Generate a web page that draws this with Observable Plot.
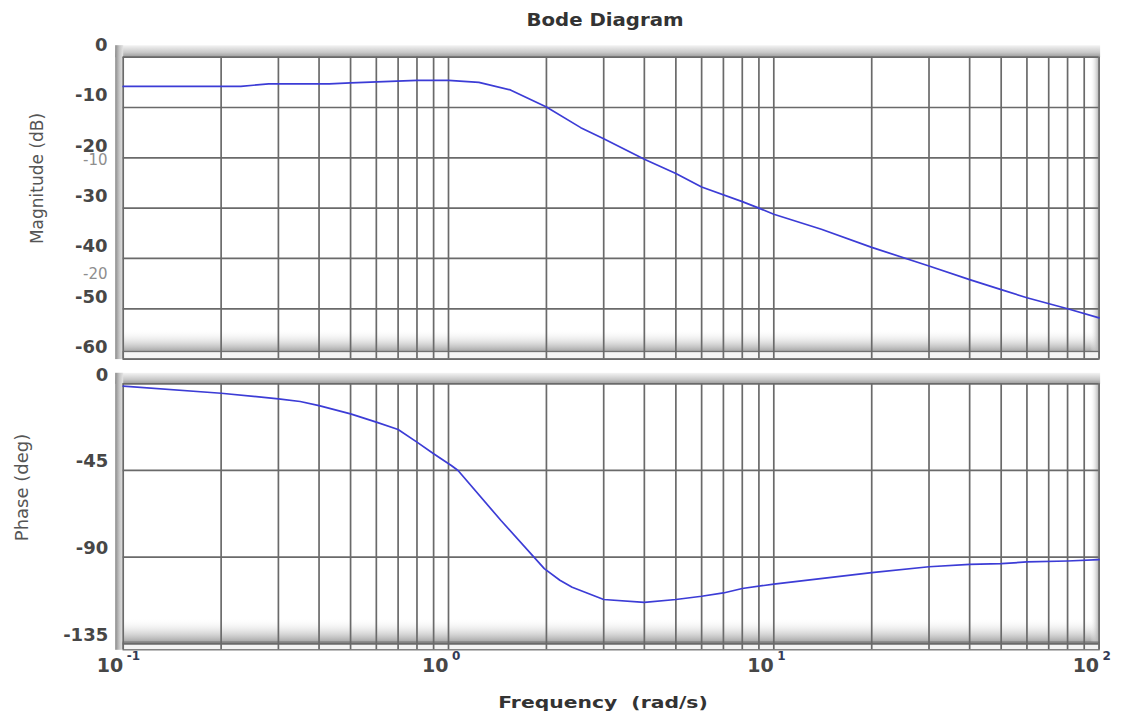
<!DOCTYPE html>
<html><head><meta charset="utf-8">
<script src="https://cdn.jsdelivr.net/npm/d3@7"></script>
<script src="https://cdn.jsdelivr.net/npm/@observablehq/plot@0.6"></script>
<style>
html,body{margin:0;padding:0;background:#fff;}
#wrap{position:relative;width:1121px;height:713px;overflow:hidden;font-family:"DejaVu Sans",sans-serif;}
#mag,#phase{position:absolute;left:0;}
#mag{top:0;} #phase{top:362px;}
.ttl{position:absolute;white-space:pre;font-weight:bold;color:#333;font-size:16px;line-height:1;}
</style></head>
<body>
<svg width="0" height="0" style="position:absolute">
<defs>
<linearGradient id="bandTop" x1="0" y1="0" x2="0" y2="1"><stop offset="0" stop-color="#f4f4f4"/><stop offset="0.6" stop-color="#c8c8c8"/><stop offset="1" stop-color="#9a9a9a"/></linearGradient>
<linearGradient id="bandLeft" x1="0" y1="0" x2="1" y2="0"><stop offset="0" stop-color="#8a8a8a"/><stop offset="0.5" stop-color="#c4c4c4"/><stop offset="1" stop-color="#e4e4e4"/></linearGradient>
<linearGradient id="shadeBottom" x1="0" y1="0" x2="0" y2="1"><stop offset="0" stop-color="#ffffff" stop-opacity="0"/><stop offset="1" stop-color="#a4a4a4"/></linearGradient>
<linearGradient id="shadeRight" x1="0" y1="0" x2="1" y2="0"><stop offset="0" stop-color="#ffffff" stop-opacity="0"/><stop offset="1" stop-color="#ababab"/></linearGradient>
</defs></svg>
<div id="wrap">
  <div id="mag"></div>
  <div id="phase"></div>
  <div class="ttl" id="title" style="left:605px;top:20px;font-size:17px;transform:translate(-50%,-50%) scaleX(1.16);">Bode Diagram</div>
  <div class="ttl" id="xtitle" style="left:603px;top:703px;transform:translate(-50%,-50%) scaleX(1.27);">Frequency  (rad/s)</div>
</div>
<script>
// ---- data ----
const magFreq = [0.1, 0.2, 0.23, 0.28, 0.43, 0.5, 0.8, 1.0, 1.24, 1.55, 2, 2.55, 3, 4, 5, 6, 8, 9, 10, 14, 20, 30, 40, 50, 60, 80, 100];
const magDb   = [-5.8, -5.8, -5.8, -5.3, -5.3, -5.1, -4.6, -4.6, -5.0, -6.5, -9.9, -14.0, -16.2, -20.3, -23.1, -25.8, -28.7, -30.0, -31.2, -34.2, -37.8, -41.5, -44.2, -46.2, -47.8, -50.0, -51.8];
const phFreq  = [0.1, 0.2, 0.3, 0.35, 0.4, 0.5, 0.6, 0.7, 0.8, 0.9, 1.02, 1.07, 1.45, 1.97, 2.2, 2.4, 3, 4, 5, 6, 7, 8, 10, 20, 30, 40, 50, 60, 80, 100];
const phDeg   = [-1.2, -4.9, -7.8, -9.2, -11.3, -15.6, -19.9, -23.7, -30.3, -36.3, -42.4, -45, -71, -96, -102, -105.6, -112, -113.5, -112, -110.3, -108.6, -106.3, -104, -98, -95, -93.8, -93.4, -92.5, -92, -91.3];
const xGrid = [0.1,0.2,0.3,0.4,0.5,0.6,0.7,0.8,0.9,1,2,3,4,5,6,7,8,9,10,20,30,40,50,60,70,80,90,100];
const magTicks = [0, -10, -20, -30, -40, -50, -60];
const phTicks = [0, -45, -90, -135];
const ghostLabels = ["-10", "-20"];
const ghostAt = [-22.9, -45.6];
const xTickValues = [0.1, 1, 10, 100];
const xTickExponents = ["-1", "0", "1", "2"];
const magLabel = "Magnitude (dB)";
const phLabel = "Phase (deg)";

const magData = magFreq.map((f, i) => ({f, v: magDb[i]}));
const phData = phFreq.map((f, i) => ({f, v: phDeg[i]}));

const W = 1121, ML = 122.7, MR = 22.4;
const plotW = W - ML - MR;
const GRID = "#6a6a6a", BLUE = "#3c3cd6";
const tickFont = {fontSize: 18, fontWeight: "bold", fontFamily: "DejaVu Sans", fill: "#474747"};

// ---- magnitude panel ----
const H1 = 362, MT1 = 56.7, MB1 = 3.4, PH1 = H1 - MT1 - MB1;
const mag = Plot.plot({
  width: W, height: H1, marginLeft: ML, marginRight: MR, marginTop: MT1, marginBottom: MB1,
  x: {type: "log", domain: [0.1, 100], axis: null},
  y: {domain: [-60, 0], axis: null},
  marks: [
    Plot.frame({fill: "url(#bandTop)", insetTop: -12, insetBottom: PH1, insetLeft: -8, insetRight: -1}),
    Plot.frame({fill: "url(#bandLeft)", insetLeft: -8, insetRight: plotW, insetTop: -12}),
    Plot.frame({fill: "url(#shadeBottom)", insetTop: PH1 - 30, insetBottom: 7.6}),
    Plot.frame({fill: "url(#shadeRight)", insetLeft: plotW - 9, insetBottom: 7.6}),
    Plot.frame({fill: "#f4f4f4", stroke: "#707070", strokeWidth: 1.3, insetTop: PH1 - 7.6}),
    Plot.ruleX(xGrid, {x: d => d, stroke: GRID, strokeWidth: 1.7}),
    Plot.ruleY(magTicks, {y: d => d, stroke: GRID, strokeWidth: 1.7}),
    Plot.line(magData, {x: "f", y: "v", stroke: BLUE, strokeWidth: 1.7}),
    Plot.text(magTicks, {y: d => d, text: d => String(d), frameAnchor: "left", dx: -15.7, dy: -12, textAnchor: "end", ariaLabel: "ytick", ...tickFont}),
    Plot.text(ghostLabels, {y: (d, i) => ghostAt[i], text: d => d, frameAnchor: "left", dx: -15.7, dy: -12, textAnchor: "end", fontSize: 15, fontFamily: "DejaVu Sans", fill: "#8e8e8e", ariaLabel: "ytick"}),
    Plot.text([magLabel], {text: d => d, frameAnchor: "left", textAnchor: "middle", lineAnchor: "middle", rotate: -90, dx: -85.7, dy: -29.7, fontSize: 17, fontFamily: "DejaVu Sans", fill: "#555", ariaLabel: "ylabel"})
  ]
});
document.getElementById("mag").appendChild(mag);

// ---- phase panel ----
const H2 = 351, MT2 = 21.3, MB2 = 69.7, PH2 = H2 - MT2 - MB2;
const ph = Plot.plot({
  width: W, height: H2, marginLeft: ML, marginRight: MR, marginTop: MT2, marginBottom: MB2,
  x: {type: "log", domain: [0.1, 100], axis: null},
  y: {domain: [-135, 0], axis: null},
  marks: [
    Plot.frame({fill: "url(#bandTop)", insetTop: -11, insetBottom: PH2, insetLeft: -8, insetRight: -1}),
    Plot.frame({fill: "url(#bandLeft)", insetLeft: -8, insetRight: plotW, insetTop: -11, insetBottom: -6}),
    Plot.frame({fill: "url(#shadeBottom)", insetTop: PH2 - 26, insetBottom: 1.6}),
    Plot.frame({fill: "url(#shadeRight)", insetLeft: plotW - 9, insetBottom: 1.6}),
    Plot.frame({fill: "#f4f4f4", stroke: "#707070", strokeWidth: 1.3, insetTop: PH2 - 1.6, insetBottom: -6}),
    Plot.ruleX(xGrid, {x: d => d, stroke: GRID, strokeWidth: 1.7, insetBottom: -6}),
    Plot.ruleY(phTicks, {y: d => d, stroke: GRID, strokeWidth: 1.7}),
    Plot.line(phData, {x: "f", y: "v", stroke: BLUE, strokeWidth: 1.7}),
    Plot.text(phTicks, {y: d => d, text: d => String(d), frameAnchor: "left", dx: -15, dy: -9, textAnchor: "end", ariaLabel: "ytick", ...tickFont}),
    Plot.text([phLabel], {text: d => d, frameAnchor: "left", textAnchor: "middle", lineAnchor: "middle", rotate: -90, dx: -100.7, dy: -26.3, fontSize: 18, fontFamily: "DejaVu Sans", fill: "#555", ariaLabel: "ylabel"}),
    Plot.text(xTickValues, {x: d => d, text: () => "10", frameAnchor: "bottom", lineAnchor: "middle", dy: 22, textAnchor: "end", ariaLabel: "xtick", ...tickFont, fontSize: 19}),
    Plot.text(xTickValues, {x: d => d, text: (d, i) => xTickExponents[i], frameAnchor: "bottom", lineAnchor: "middle", dy: 12, dx: 3.5, textAnchor: "start", fontSize: 12, fontWeight: "bold", fontFamily: "DejaVu Sans", fill: "#333a55"})
  ]
});
document.getElementById("phase").appendChild(ph);

for (const svg of [mag, ph]) {
  d3.select(svg).selectAll('g[aria-label="ytick"]').style("letter-spacing", "2.5px");
  d3.select(svg).selectAll('g[aria-label="xtick"]').style("letter-spacing", "1.5px");
  d3.select(svg).selectAll('g[aria-label="ylabel"]').style("letter-spacing", "2.6px");
}
</script>
</body></html>
